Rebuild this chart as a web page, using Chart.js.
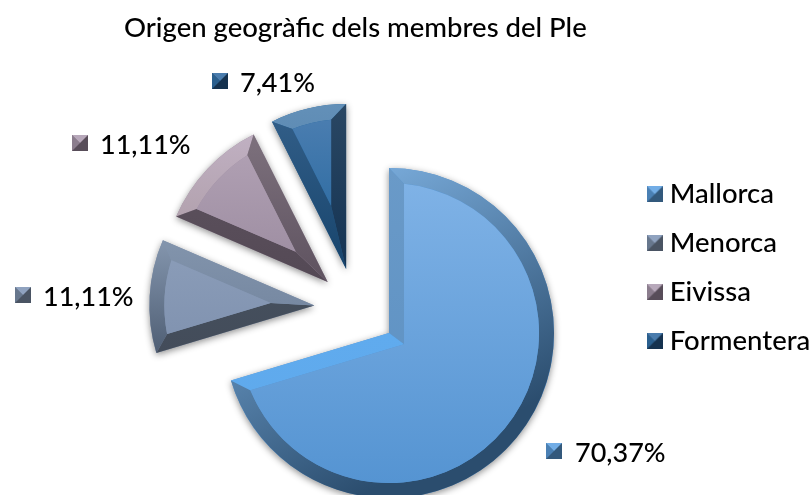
<!DOCTYPE html>
<html>
<head>
<meta charset="utf-8">
<style>
html, body { margin: 0; padding: 0; background: #fff; }
#wrap { width: 811px; height: 495px; }
</style>
<script src="https://cdn.jsdelivr.net/npm/chart.js@4"></script>
</head>
<body>
<div id="wrap"><canvas id="chart" width="811" height="495"></canvas></div>
<script>
const titleText = "Origen geogràfic dels membres del Ple";
const categories = ["Mallorca", "Menorca", "Eivissa", "Formentera"];
const shares = [70.37, 11.11, 11.11, 7.41];

// how far each slice is pulled out of the pie, px
const explode = [42, 41, 38, 40];
const bevel = 15;
const fontName = "Lato, 'Noto Sans', sans-serif";

// where the percent labels go: swatch left edge, text left edge, middle y
const labelSpots = [
    { box: 546, text: 575, y: 452 },
    { box: 15, text: 43, y: 296 },
    { box: 72, text: 100, y: 144 },
    { box: 212, text: 240, y: 82 }
];

// face, rim, start edge, end edge: [top colour, bottom colour]
const looks = [
    { face: ["#7fb2e6", "#5594d2"], rim: ["#7db0e0", "#2b4d6e"], start: ["#6a9ac8", "#5a8fc2"], end: ["#62aef2", "#5ea8ea"] },
    { face: ["#8a9cb8", "#8193b0"], rim: ["#8496ae", "#4f5e74"], start: ["#47525f", "#434c5a"], end: ["#8294ac", "#6f819b"] },
    { face: ["#b0a0b3", "#9d8da1"], rim: ["#c0b0c2", "#a8979f"], start: ["#5f5460", "#544955"], end: ["#7d717d", "#5e525f"] },
    { face: ["#4a7db0", "#25679e"], rim: ["#6390b8", "#4a78a4"], start: ["#34608a", "#17446c"], end: ["#2a4763", "#143353"] }
];

// swatch triangles: top, left, right and bottom
const swatchCols = [
    ["#72ade6", "#4a80b4", "#33597c"],
    ["#8fa2bf", "#67778d", "#4a5463"],
    ["#b7a8ba", "#8b7d8d", "#584d59"],
    ["#4a7cad", "#2a5f8e", "#15324f"]
];

// little bevelled square used in the legend and next to the labels
function makeSwatch(cols) {
    const size = 16;
    const c = document.createElement("canvas");
    c.width = size;
    c.height = size;
    const g = c.getContext("2d");
    g.fillStyle = cols[2];
    g.fillRect(0, 0, size, size);
    const tri = (x1, y1, x2, y2, col) => {
        g.fillStyle = col;
        g.beginPath();
        g.moveTo(x1, y1);
        g.lineTo(x2, y2);
        g.lineTo(size / 2, size / 2);
        g.closePath();
        g.fill();
    };
    tri(0, 0, 0, size, cols[1]);
    tri(0, 0, size, 0, cols[0]);
    return c;
}
const swatches = swatchCols.map(makeSwatch);

function vertical(ctx, y0, y1, cols) {
    const g = ctx.createLinearGradient(0, y0, 0, y1);
    g.addColorStop(0, cols[0]);
    g.addColorStop(1, cols[1]);
    return g;
}

// pull the slices out. the built in offset also grows and trims them
const explodePlugin = {
    id: "explode",
    afterDatasetsUpdate(chart) {
        chart.getDatasetMeta(0).data.forEach((arc, i) => {
            const mid = (arc.startAngle + arc.endAngle) / 2;
            arc.x += Math.cos(mid) * explode[i];
            arc.y += Math.sin(mid) * explode[i];
        });
    },
    afterLayout(chart) {
        const lg = chart.legend;
        lg.left = 632;
        lg.right = 811;
        lg.top = 159;
        lg.bottom = 470;
    }
};

const shadowPlugin = {
    id: "softShadow",
    beforeDatasetDraw(chart) {
        const ctx = chart.ctx;
        ctx.save();
        ctx.shadowColor = "rgba(0,0,0,0.45)";
        ctx.shadowBlur = 7;
        ctx.shadowOffsetY = 2;
    },
    afterDatasetDraw(chart) {
        chart.ctx.restore();
    }
};

// bevel facets on top of the slices, from the arc geometry
const bevelPlugin = {
    id: "bevel",
    afterDatasetsDraw(chart) {
        const ctx = chart.ctx;
        chart.getDatasetMeta(0).data.forEach((arc, i) => {
            const look = looks[i];
            const x = arc.x, y = arc.y, R = arc.outerRadius;
            const a0 = arc.startAngle, a1 = arc.endAngle;
            const half = (a1 - a0) / 2;
            const mid = (a0 + a1) / 2;
            const r = R - bevel;
            const delta = Math.asin(bevel / r);
            const b0 = a0 + delta, b1 = a1 - delta;
            const d = bevel / Math.sin(half);
            const ax = x + Math.cos(mid) * d;
            const ay = y + Math.sin(mid) * d;
            const top = y - R, bottom = y + R;

            let ys = [y, y + Math.sin(a0) * R, y + Math.sin(a1) * R];
            if (i > 0) {
                for (let t = a0; t <= a1; t += 0.05) ys.push(y + Math.sin(t) * R);
            }
            const y0 = i == 0 ? top : Math.min(...ys);
            const y1 = i == 0 ? bottom : Math.max(...ys);

            ctx.save();
            // rim, runs diagonally on the big slice
            let rim;
            if (i == 0) {
                rim = ctx.createLinearGradient(x - R * 0.3, y - R, x + R * 0.55, y + R * 0.6);
                rim.addColorStop(0, look.rim[0]);
                rim.addColorStop(1, look.rim[1]);
            } else {
                rim = vertical(ctx, y0, y1, look.rim);
            }
            ctx.fillStyle = rim;
            ctx.beginPath();
            ctx.arc(x, y, R, a0, a1);
            ctx.arc(x, y, r, b1, b0, true);
            ctx.closePath();
            ctx.fill();

            // start edge
            ctx.fillStyle = vertical(ctx, y0, y1, look.start);
            ctx.beginPath();
            ctx.moveTo(x, y);
            ctx.lineTo(x + Math.cos(a0) * R, y + Math.sin(a0) * R);
            ctx.lineTo(x + Math.cos(b0) * r, y + Math.sin(b0) * r);
            ctx.lineTo(ax, ay);
            ctx.closePath();
            ctx.fill();

            // end edge
            ctx.fillStyle = vertical(ctx, y0, y1, look.end);
            ctx.beginPath();
            ctx.moveTo(x, y);
            ctx.lineTo(x + Math.cos(a1) * R, y + Math.sin(a1) * R);
            ctx.lineTo(x + Math.cos(b1) * r, y + Math.sin(b1) * r);
            ctx.lineTo(ax, ay);
            ctx.closePath();
            ctx.fill();

            // face
            ctx.fillStyle = vertical(ctx, y0 + bevel, y1 - bevel, look.face);
            ctx.beginPath();
            ctx.moveTo(ax, ay);
            ctx.arc(x, y, r, b0, b1);
            ctx.closePath();
            ctx.fill();
            ctx.restore();
        });
    }
};

const percentPlugin = {
    id: "percentLabels",
    afterDraw(chart) {
        const ctx = chart.ctx;
        ctx.save();
        ctx.font = "500 27px " + fontName;
        ctx.fillStyle = "#000";
        ctx.textBaseline = "middle";
        shares.forEach((v, i) => {
            const spot = labelSpots[i];
            ctx.drawImage(swatches[i], spot.box, spot.y - 9);
            ctx.fillText(v.toFixed(2).replace(".", ",") + "%", spot.text, spot.y + 1);
        });
        ctx.restore();
    }
};

new Chart(document.getElementById("chart"), {
    type: "pie",
    data: {
        labels: categories,
        datasets: [{
            data: shares,
            backgroundColor: looks.map(l => l.face[1]),
            borderWidth: 0
        }]
    },
    options: {
        responsive: false,
        animation: false,
        radius: 165,
        layout: { padding: { left: 88, right: 0, top: 0, bottom: 0 } },
        plugins: {
            tooltip: { enabled: false },
            title: {
                display: true,
                text: titleText,
                fullSize: false,
                color: "#000",
                font: { family: fontName, size: 27.5, weight: "500" },
                padding: { top: 12, bottom: 76 }
            },
            legend: {
                display: true,
                position: "right",
                align: "start",
                labels: {
                    color: "#000",
                    font: { family: fontName, size: 27.5, weight: "500" },
                    padding: 21.5,
                    usePointStyle: true,
                    pointStyleWidth: 2.5,
                    generateLabels: () => categories.map((name, i) => ({
                        text: name,
                        pointStyle: swatches[i],
                        fillStyle: looks[i].face[1],
                        lineWidth: 0,
                        index: i
                    }))
                }
            }
        }
    },
    plugins: [explodePlugin, shadowPlugin, bevelPlugin, percentPlugin]
});
</script>
</body>
</html>
